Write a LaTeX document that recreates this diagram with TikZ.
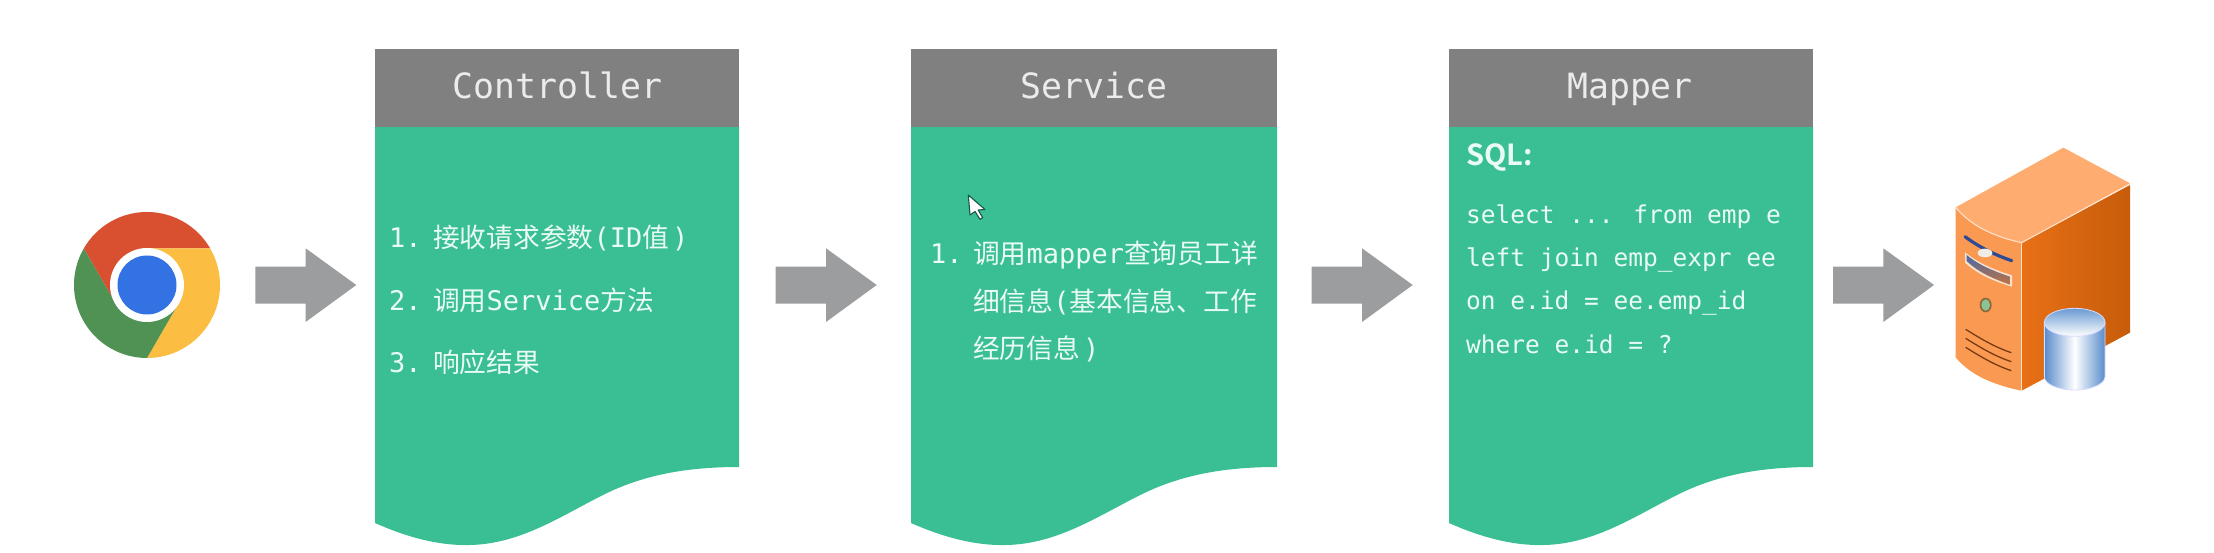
\documentclass[tikz,border=0pt]{standalone}
\usepackage{fontspec}
\setmainfont{DejaVu Sans Mono}
\newfontfamily\cjkf[Scale=0.99]{Noto Sans CJK SC}
\newfontfamily\sqlf[BoldFont={Noto Sans CJK SC Bold}]{Noto Sans CJK SC}
\newcommand{\zh}[1]{{\cjkf #1}}
\definecolor{cardgreen}{HTML}{3ABF94}
\definecolor{headgray}{HTML}{808080}
\definecolor{arrowgray}{HTML}{9B9D9E}
\definecolor{txt}{HTML}{E9FBF4}
\tikzset{
  x=1pt,y=-1pt,
  bodytext/.style={anchor=base west,inner sep=0pt,text=txt,font=\fontsize{27}{27}\selectfont},
  codetext/.style={anchor=base west,inner sep=0pt,text=txt,font=\fontsize{24.5}{24.5}\selectfont},
  headtext/.style={anchor=base,inner sep=0pt,text=white!92!black,font=\fontsize{34.8}{34.8}\selectfont},
  sqltext/.style={anchor=base west,inner sep=0pt,text=txt,font=\sqlf\bfseries\fontsize{29}{29}\selectfont},
  fatarrow/.style={fill=arrowgray,draw=none},
}
\newcommand{\fatarrowat}[1]{%
  \path[fatarrow] (#1,266.7) -- ++(50.3,0) -- ++(0,-18.4) -- ++(50.7,36.7) -- ++(-50.7,37) -- ++(0,-18.3) -- ++(-50.3,0) -- cycle;}
\newcommand{\cardat}[2]{% left x, width
  \begin{scope}[shift={(#1,0)},xscale=#2/364]
    \fill[cardgreen] (0,127) -- (0,523) .. controls (28,535.5) and (61.5,546) .. (95,545)
      .. controls (145,544) and (185,516.7) .. (228,495)
      .. controls (268,475) and (311,467) .. (364,467) -- (364,127) -- cycle;
    \fill[headgray] (0,49) rectangle (364,127);
  \end{scope}}
\begin{document}
\begin{tikzpicture}
\useasboundingbox (0,0) rectangle (2214,553);
\fill[white] (0,0) rectangle (2214,553);

% browser icon
\begin{scope}[shift={(147,285)},x=1pt,y=1pt]
  \fill[fill=white] (0,0) circle[radius=74];
  \fill[fill={rgb,255:red,216;green,80;blue,48}] (30:73pt) arc[start angle=30,end angle=150,radius=73] -- (210:36.5pt) -- (0,0) -- (90:36.5pt) -- cycle;
  \fill[fill={rgb,255:red,251;green,189;blue,66}] (-90:73pt) arc[start angle=-90,end angle=30,radius=73] -- (90:36.5pt) -- (0,0) -- (-30:36.5pt) -- cycle;
  \fill[fill={rgb,255:red,80;green,146;blue,84}] (150:73pt) arc[start angle=150,end angle=270,radius=73] -- (-30:36.5pt) -- (0,0) -- (210:36.5pt) -- cycle;
  \fill[white] (0,0) circle[radius=37];
  \fill[fill={rgb,255:red,50;green,114;blue,226}] (0,0) circle[radius=29.5];
\end{scope}

\fatarrowat{255.3}
\fatarrowat{775.7}
\fatarrowat{1311.7}
\fatarrowat{1833}

\cardat{375}{364}
\cardat{911}{366}
\cardat{1449}{364}

\node[headtext] (ctitle) at (557.5,99) {Controller};
\node[headtext] (stitle) at (1094,99) {Service};
\node[headtext] (mtitle) at (1630,99) {Mapper};

% Controller text
\node[bodytext] (c1a) at (389,248) {1.};
\node[bodytext] (c1b) at (433,248) {\zh{接收请求参数}(ID\zh{值}\hspace{3pt})};
\node[bodytext] (c2a) at (389,310.5) {2.};
\node[bodytext] (c2b) at (433,310.5) {\zh{调用}Service\zh{方法}};
\node[bodytext] (c3a) at (389,372.5) {3.};
\node[bodytext] (c3b) at (433,372.5) {\zh{响应结果}};

% Service text
\node[bodytext] (s1a) at (930,264) {1.};
\node[bodytext] (s1b) at (973,264) {\zh{调用}mapper\zh{查询员工详}};
\node[bodytext] (s1c) at (973,311.5) {\zh{细信息}(\zh{基本信息、工作}};
\node[bodytext] (s1d) at (973,359) {\zh{经历信息}\hspace{3pt})};

% cursor
\filldraw[fill=white,draw={rgb,255:red,25;green,85;blue,72},line width=1.1pt,line join=round]
  (968.3,195) -- (970,215) -- (975,211.5) -- (980,219.3) -- (982.7,217.7) -- (978.2,210) -- (985,209.5) -- cycle;

% Mapper text
\node[sqltext] (sql) at (1466,166) {SQL:};
\node[codetext] (m1) at (1466,223.5) {select ... from emp e};
\node[codetext] (m2) at (1466,266.5) {left join emp\_expr ee};
\node[codetext] (m3) at (1466,309.5) {on e.id = ee.emp\_id};
\node[codetext] (m4) at (1466,353) {where e.id = ?};

% server (coordinates in units of one third of a pixel)
\begin{scope}[shift={(1800,120)},x=0.33333pt,y=-0.33333pt]
  \fill[fill={rgb,255:red,255;green,172;blue,112}] (467,262) -- (790,83) -- (990,190) -- (665,368) .. controls (580,350) and (510,315) .. (467,262) -- cycle;
  \shade[left color={rgb,255:red,232;green,112;blue,22},right color={rgb,255:red,198;green,92;blue,10}]
    (665,368) -- (990,195) -- (990,638) -- (665,812) -- cycle;
  \fill[fill={rgb,255:red,250;green,154;blue,82}] (467,262) .. controls (510,315) and (580,350) .. (665,368) -- (665,812) .. controls (580,795) and (510,765) .. (467,712) -- cycle;
  \draw[draw={rgb,255:red,255;green,226;blue,205},line width=1.1pt] (467,262) .. controls (510,315) and (580,350) .. (665,368) -- (990,192);
  \draw[draw={rgb,255:red,255;green,226;blue,205},line width=1.1pt] (665,368) -- (665,812);
  % bar
  \draw[draw={rgb,255:red,44;green,74;blue,150},line width=3.2pt,line cap=round] (495,350) .. controls (535,380) and (585,405) .. (635,422);
  \fill[fill={rgb,255:red,240;green,236;blue,230}] (555,399) ellipse[x radius=22,y radius=13];
  % slot
  \fill[fill={rgb,255:red,245;green,225;blue,205}] (495,397) .. controls (535,430) and (585,450) .. (636,466) -- (636,500) .. controls (585,485) and (535,465) .. (495,428) -- cycle;
  \shade[top color={rgb,255:red,70;green,105;blue,170},bottom color={rgb,255:red,195;green,115;blue,65}] (500,405) .. controls (535,435) and (585,455) .. (630,470) -- (630,494) .. controls (585,478) and (535,458) .. (500,423) -- cycle;
  % led
  \fill[fill={rgb,255:red,140;green,105;blue,60}] (557,555) ellipse[x radius=18,y radius=22];
  \fill[fill={rgb,255:red,140;green,195;blue,150}] (557,555) ellipse[x radius=13,y radius=17];
  % vents
  \foreach \yy in {0,27,54} {
    \draw[draw={rgb,255:red,120;green,58;blue,18},line width=1.3pt]
      (497,628+\yy) .. controls (540,655+\yy) and (585,682+\yy) .. (634,698+\yy);
  }
  % cylinder
  \shade[left color={rgb,255:red,88;green,140;blue,205},right color={rgb,255:red,88;green,140;blue,205},middle color=white,draw=white!85!blue,line width=0.8pt]
    (733,605) -- (733,770) arc[start angle=180,end angle=0,x radius=91,y radius=40] -- (915,605) -- cycle;
  \shade[top color={rgb,255:red,105;green,155;blue,210},bottom color=white,draw=white!85!blue,line width=0.8pt]
    (824,607) ellipse[x radius=91,y radius=42];
\end{scope}
\end{tikzpicture}
\end{document}
